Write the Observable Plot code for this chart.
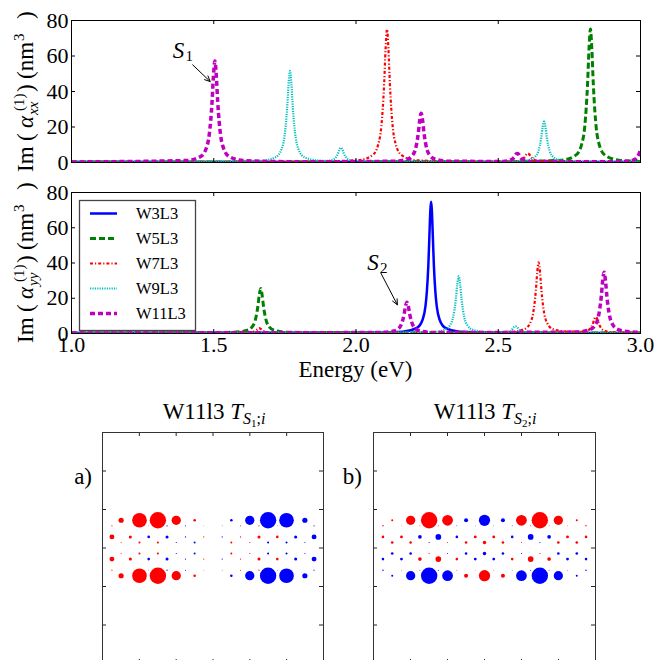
<!DOCTYPE html>
<html>
<head>
<meta charset="utf-8">
<script src="https://cdn.jsdelivr.net/npm/d3@7"></script>
<script src="https://cdn.jsdelivr.net/npm/@observablehq/plot@0.6"></script>
<style>
  html, body { margin:0; padding:0; background:#fff; }
  #root { position:relative; width:657px; height:660px; overflow:hidden; font-family:"Liberation Serif", serif; }
  #root svg, #root svg text, #root svg tspan { font-family:"Liberation Serif", serif !important; }
</style>
</head>
<body>
<div id="root"></div>
<script>
// ---------------- DATA ----------------
const seriesNames = ["W3L3", "W5L3", "W7L3", "W9L3", "W11L3"];
const energyTicks = [1.0, 1.5, 2.0, 2.5, 3.0];
const alphaTicks = [0, 20, 40, 60, 80];

// Im(alpha_xx) spectra: [energy eV, value nm^3]
const xxW3L3 = [[1.0,0.3],[3.0,0.3]];
const xxW5L3 = [[1.0,0.3],[2.5,0.4],[2.724,1.3],[2.774,4.3],[2.794,10.7],[2.804,20.2],[2.814,44.6],[2.819,64],[2.824,75.2],[2.829,64],[2.834,44.6],[2.844,20.2],[2.854,10.7],[2.874,4.3],[2.924,1.3],[3.0,0.6]];
const xxW7L3 = [[1.0,0.3],[1.8,0.4],[2.009,1.3],[2.059,4.3],[2.079,10.7],[2.089,20.2],[2.099,44.6],[2.104,64],[2.109,75],[2.114,64],[2.119,44.6],[2.129,20.2],[2.139,10.7],[2.159,4.3],[2.209,1.3],[2.4,0.4],[2.554,0.6],[2.584,1.6],[2.594,3.3],[2.599,4.6],[2.604,5.1],[2.609,4.6],[2.614,3.3],[2.624,1.6],[2.654,0.6],[3.0,0.3]];
const xxW9L3 = [[1.0,0.3],[1.668,1.0],[1.718,3.1],[1.738,7.4],[1.748,14.0],[1.758,30.7],[1.763,44.2],[1.768,51.6],[1.773,44.2],[1.778,30.7],[1.788,14.0],[1.798,7.4],[1.818,3.1],[1.868,1.1],[1.897,0.9],[1.917,1.5],[1.927,2.5],[1.937,5.2],[1.942,7.35],[1.947,8.3],[1.952,7.35],[1.957,5.2],[1.967,2.5],[1.977,1.5],[1.997,0.75],[2.1,0.4],[2.561,0.6],[2.611,1.5],[2.631,3.5],[2.641,6.4],[2.651,13.9],[2.656,19.9],[2.661,23],[2.666,19.9],[2.671,13.9],[2.681,6.4],[2.691,3.5],[2.711,1.5],[2.761,0.6],[3.0,0.3]];
const xxW11L3 = [[1.0,0.3],[1.404,1.1],[1.454,3.4],[1.474,8.2],[1.484,15.5],[1.494,34.0],[1.499,48.9],[1.504,57.2],[1.509,48.9],[1.514,34.0],[1.524,15.5],[1.534,8.2],[1.554,3.4],[1.604,1.1],[1.8,0.4],[2.129,0.7],[2.179,1.8],[2.199,4.1],[2.209,7.6],[2.219,16.6],[2.224,23.8],[2.229,27.7],[2.234,23.8],[2.239,16.6],[2.249,7.6],[2.259,4.1],[2.279,1.8],[2.329,0.7],[2.517,0.6],[2.547,1.6],[2.557,3.3],[2.562,4.6],[2.567,5.1],[2.572,4.6],[2.577,3.3],[2.587,1.6],[2.617,0.6],[2.905,0.4],[2.955,0.75],[2.975,1.4],[2.985,2.4],[2.995,5.0],[3.0,7.1]];

// Im(alpha_yy) spectra
const yyW3L3 = [[1.0,0.3],[2.064,0.5],[2.164,1.0],[2.214,3.2],[2.234,7.8],[2.244,15.2],[2.249,23.6],[2.254,37.7],[2.2565,48.4],[2.259,60.1],[2.2615,70.5],[2.264,74.7],[2.2665,70.5],[2.269,60.1],[2.2715,48.4],[2.274,37.7],[2.279,23.6],[2.284,15.2],[2.294,7.8],[2.314,3.2],[2.364,1.0],[2.464,0.5],[3.0,0.3]];
const yyW5L3 = [[1.0,0.3],[1.565,0.66],[1.615,1.67],[1.635,3.8],[1.645,7.0],[1.655,15.3],[1.66,21.9],[1.665,25.5],[1.67,21.9],[1.675,15.3],[1.685,7.0],[1.695,3.8],[1.715,1.67],[1.765,0.66],[3.0,0.3]];
const yyW7L3 = [[1.0,0.3],[1.61,0.45],[1.64,1.0],[1.65,1.9],[1.655,2.6],[1.66,3.0],[1.665,2.6],[1.67,1.9],[1.68,1.0],[1.71,0.45],[2.0,0.3],[2.542,0.9],[2.592,2.5],[2.612,5.9],[2.622,11.0],[2.632,24.1],[2.637,34.6],[2.642,40.4],[2.647,34.6],[2.652,24.1],[2.662,11.0],[2.672,5.9],[2.692,2.5],[2.742,1.1],[2.793,1.0],[2.813,1.6],[2.823,2.8],[2.833,5.8],[2.838,8.3],[2.843,9.4],[2.848,8.3],[2.853,5.8],[2.863,2.8],[2.873,1.6],[2.893,0.8],[2.943,0.45],[3.0,0.35]];
const yyW9L3 = [[1.0,0.3],[2.261,0.76],[2.311,2.05],[2.331,4.8],[2.341,8.9],[2.351,19.5],[2.356,27.9],[2.361,32.5],[2.366,27.9],[2.371,19.5],[2.381,8.9],[2.391,4.8],[2.411,2.05],[2.461,0.8],[2.511,0.6],[2.541,1.36],[2.551,2.7],[2.556,3.7],[2.561,4.0],[2.566,3.7],[2.571,2.7],[2.581,1.36],[2.611,0.5],[3.0,0.3]];
const yyW11L3 = [[1.0,0.3],[2.079,0.55],[2.129,1.26],[2.149,2.76],[2.159,5.0],[2.169,10.8],[2.174,15.4],[2.179,17.8],[2.184,15.4],[2.189,10.8],[2.199,5.0],[2.209,2.76],[2.229,1.26],[2.279,0.55],[2.772,0.8],[2.822,2.2],[2.842,5.1],[2.852,9.5],[2.862,20.8],[2.867,29.8],[2.872,34.7],[2.877,29.8],[2.882,20.8],[2.892,9.5],[2.902,5.1],[2.922,2.2],[2.972,0.8],[3.0,0.6]];

// annotations (data coordinates)
const s1Label = {E: 1.376, v: 63.1, sub: "1"};
const s1Arrow = {E1: 1.426, v1: 55.0, E2: 1.4875, v2: 45.6};
const s2Label = {E: 2.060, v: 40.4, sub: "2"};
const s2Arrow = {E1: 2.087, v1: 34.4, E2: 2.1454, v2: 16.3};

// W11L3 lattice (Angstrom) : atom columns and rows
const evenSiteX = [-13.72, -11.22, -8.73, -6.24, -3.74, -1.25, 1.25, 3.74, 6.24, 8.73, 11.22, 13.72];
const oddSiteX  = [-12.47, -9.98, -7.48, -4.99, -2.49, 0, 2.49, 4.99, 7.48, 9.98, 12.47];
const rowY      = [3.60, 2.88, 1.44, 0.72, -0.72, -1.44, -2.88, -3.60];
const rowSites  = ["odd", "even", "even", "odd", "odd", "even", "even", "odd"];
const latticeTicks = [-10, -5, 0, 5, 10];

// transition charges T_{S1;i} per row
const tS1 = [
  [0.10, 0.80, 1.0, 0.32, 0.025, 0, -0.025, -0.32, -1.0, -0.80, -0.10],
  [0.005, 0, 0.002, -0.006, -0.004, 0.002, -0.002, 0.004, 0.006, -0.002, 0, -0.005],
  [0.09, 0.035, -0.025, -0.035, -0.006, 0.005, -0.005, 0.006, 0.035, 0.025, -0.035, -0.09],
  [0.004, 0.016, 0.016, -0.005, -0.014, 0, 0.014, 0.005, -0.016, -0.016, -0.004],
  [0.004, 0.016, 0.016, -0.005, -0.014, 0, 0.014, 0.005, -0.016, -0.016, -0.004],
  [0.09, 0.035, -0.025, -0.035, -0.006, 0.005, -0.005, 0.006, 0.035, 0.025, -0.035, -0.09],
  [0.005, 0, 0.002, -0.006, -0.004, 0.002, -0.002, 0.004, 0.006, -0.002, 0, -0.005],
  [0.10, 0.80, 1.0, 0.32, 0.025, 0, -0.025, -0.32, -1.0, -0.80, -0.10]
];
// transition charges T_{S2;i} per row
const tS2 = [
  [0.015, 0.32, 1.0, 0.43, -0.06, -0.47, -0.06, 0.43, 1.0, 0.32, 0.015],
  [0.008, 0.002, 0.003, 0.004, -0.003, -0.002, -0.002, -0.003, 0.004, 0.003, 0.002, 0.008],
  [0.025, 0.03, -0.05, -0.12, -0.025, 0.03, 0.03, -0.025, -0.12, -0.05, 0.03, 0.025],
  [0.025, 0.025, -0.005, 0.004, 0.025, 0.045, 0.025, 0.004, -0.005, 0.025, 0.025],
  [-0.025, -0.025, 0.005, -0.004, -0.025, -0.045, -0.025, -0.004, 0.005, -0.025, -0.025],
  [-0.025, -0.03, 0.05, 0.12, 0.025, -0.03, -0.03, 0.025, 0.12, 0.05, -0.03, -0.025],
  [-0.008, -0.002, -0.003, -0.004, 0.003, 0.002, 0.002, 0.003, -0.004, -0.003, -0.002, -0.008],
  [-0.015, -0.32, -1.0, -0.43, 0.06, 0.47, 0.06, -0.43, -1.0, -0.32, -0.015]
];

// ---------------- RENDER ----------------
const FONT = '"Liberation Serif", serif';
const root = document.getElementById("root");
function place(el, left, top) {
  const d = document.createElement("div");
  d.style.position = "absolute";
  d.style.left = left + "px";
  d.style.top = top + "px";
  d.appendChild(el);
  root.appendChild(d);
  return d;
}
const seriesStyle = {
  W3L3:  {stroke: "#0000FF", strokeWidth: 2.5, dash: null},
  W5L3:  {stroke: "#008000", strokeWidth: 3.0, dash: "6,3"},
  W7L3:  {stroke: "#FF0000", strokeWidth: 2.2, dash: "3,2,1.2,2"},
  W9L3:  {stroke: "#00BFBF", strokeWidth: 2.2, dash: "1.2,1.2"},
  W11L3: {stroke: "#BF00BF", strokeWidth: 3.5, dash: "5,3"}
};

function spectrum(seriesData, opts) {
  const {marginTop, marginBottom, height, showX} = opts;
  const mL = 71, mR = 17;
  const pxPerE = (657 - mL - mR) / 2;
  const pxPerV = (height - marginTop - marginBottom) / 80;
  const tE = 4 / pxPerE, tV = 4 / pxPerV;
  const marks = [];
  seriesNames.forEach((name, i) => {
    const s = seriesStyle[name];
    const pts = seriesData[i].map(([E, v]) => ({E, v}));
    const o = {x: "E", y: "v", stroke: s.stroke, strokeWidth: s.strokeWidth, curve: "monotone-x", clip: true, strokeLinejoin: "round"};
    if (s.dash) { o.strokeDasharray = s.dash; o.strokeLinecap = "butt"; }
    marks.push(Plot.line(pts, o));
  });
  // inward ticks
  marks.push(Plot.ruleY(alphaTicks, {y: d => d, x1: 1, x2: 1 + tE, stroke: "black"}));
  marks.push(Plot.ruleY(alphaTicks, {y: d => d, x1: 3 - tE, x2: 3, stroke: "black"}));
  marks.push(Plot.ruleX(energyTicks, {x: d => d, y1: 0, y2: tV, stroke: "black"}));
  marks.push(Plot.ruleX(energyTicks, {x: d => d, y1: 80 - tV, y2: 80, stroke: "black"}));
  // annotation
  marks.push(Plot.arrow([opts.arrow], {x1: "E1", y1: "v1", x2: "E2", y2: "v2", stroke: "black", strokeWidth: 1, headLength: 9, headAngle: 50}));
  marks.push(Plot.text([opts.label], {x: "E", y: "v", text: () => "S", fontStyle: "italic", fontSize: 23}));
  marks.push(Plot.text([opts.label], {x: "E", y: "v", text: d => d.sub, fontSize: 15, dx: 7, dy: 6, textAnchor: "start"}));
  marks.push(Plot.frame({stroke: "black", strokeWidth: 1}));
  return Plot.plot({
    width: 657, height, marginLeft: mL, marginRight: mR, marginTop, marginBottom,
    style: {fontFamily: FONT, fontSize: "22px", background: "transparent", overflow: "visible", color: "black"},
    x: {domain: [1, 3], ticks: energyTicks, tickSize: 0, tickPadding: 3, tickFormat: d => d.toFixed(1), label: null, axis: showX ? "bottom" : null},
    y: {domain: [0, 80], ticks: alphaTicks, tickSize: 0, tickPadding: 3, label: null},
    marks
  });
}

const xxData = [xxW3L3, xxW5L3, xxW7L3, xxW9L3, xxW11L3];
const yyData = [yyW3L3, yyW5L3, yyW7L3, yyW9L3, yyW11L3];

place(spectrum(xxData, {marginTop: 20, marginBottom: 8, height: 170, showX: false, label: s1Label, arrow: s1Arrow}), 0, 0);
place(spectrum(yyData, {marginTop: 20, marginBottom: 49, height: 210, showX: true, label: s2Label, arrow: s2Arrow}), 0, 172);

function dotPanel(values, innerW) {
  const atoms = [];
  rowY.forEach((y, r) => {
    const xs = rowSites[r] === "even" ? evenSiteX : oddSiteX;
    values[r].forEach((t, k) => atoms.push({x: xs[k], y, t}));
  });
  const innerH = 231;
  const tx = 4 * 30 / innerW, ty = 4 * 30 / innerH;
  return Plot.plot({
    width: innerW + 2, height: innerH + 2, marginLeft: 1, marginRight: 1, marginTop: 1, marginBottom: 1,
    style: {background: "transparent", overflow: "visible"},
    x: {domain: [-15, 15], axis: null},
    y: {domain: [-15, 15], axis: null},
    r: {type: "sqrt", domain: [0, 1], range: [0, 8.2]},
    color: {type: "identity"},
    marks: [
      Plot.dot(atoms, {x: "x", y: "y", r: d => Math.abs(d.t), fill: d => d.t >= 0 ? "#FF0000" : "#0000FF"}),
      Plot.ruleX(latticeTicks, {x: d => d, y1: 15 - ty, y2: 15, stroke: "#222"}),
      Plot.ruleX(latticeTicks, {x: d => d, y1: -15, y2: -15 + ty, stroke: "#222"}),
      Plot.ruleY(latticeTicks, {y: d => d, x1: -15, x2: -15 + tx, stroke: "#222"}),
      Plot.ruleY(latticeTicks, {y: d => d, x1: 15 - tx, x2: 15, stroke: "#222"}),
      Plot.frame({stroke: "#333", strokeWidth: 1})
    ]
  });
}
place(dotPanel(tS1, 221), 101, 431);
place(dotPanel(tS2, 222), 372, 431);

// ---------------- OVERLAY TEXT ----------------
const overlay = d3.create("svg").attr("width", 657).attr("height", 660)
  .style("position", "absolute").style("left", "0px").style("top", "0px")
  .style("pointer-events", "none").attr("font-family", FONT);
root.appendChild(overlay.node());

function yLabel(x, y, sub) {
  const g = overlay.append("g").attr("transform", `translate(${x},${y}) rotate(-90)`);
  const pieces = [
    {x: 0, t: "Im", s: 23},
    {x: 31, t: "(", s: 23},
    {x: 44, t: "\u03B1", s: 23, it: true},
    {x: 57, t: sub, s: 15, it: true, y: 5},
    {x: 61, t: "(1)", s: 15, y: -9},
    {x: 80, t: ")", s: 23},
    {x: 93, t: "(nm", s: 23},
    {x: 131, t: "3", s: 15, y: -9},
    {x: 153, t: ")", s: 23}
  ];
  pieces.forEach(p => {
    g.append("text").attr("x", p.x).attr("y", p.y || 0).attr("font-size", p.s)
      .attr("font-style", p.it ? "italic" : "normal").attr("fill", "black").text(p.t);
  });
}
yLabel(33, 172, "xx");
yLabel(33, 343, "yy");

overlay.append("text").attr("x", 355.5).attr("y", 377).attr("text-anchor", "middle")
  .attr("font-size", 23).text("Energy (eV)");

function panelTitle(cx, sNum) {
  const t = overlay.append("text").attr("x", cx).attr("y", 419).attr("text-anchor", "middle").attr("font-size", 23);
  t.append("tspan").text("W11l3 ");
  t.append("tspan").attr("font-style", "italic").text("T");
  t.append("tspan").attr("font-style", "italic").attr("font-size", 16).attr("dy", 5).text("S");
  t.append("tspan").attr("font-size", 11).attr("dy", 3).text(sNum);
  t.append("tspan").attr("font-size", 16).attr("dy", -3).text(";");
  t.append("tspan").attr("font-style", "italic").attr("font-size", 16).text("i");
}
panelTitle(214, "1");
panelTitle(485, "2");
overlay.append("text").attr("x", 92).attr("y", 484).attr("text-anchor", "end").attr("font-size", 23).text("a)");
overlay.append("text").attr("x", 362).attr("y", 484).attr("text-anchor", "end").attr("font-size", 23).text("b)");

// legend
const lg = overlay.append("g");
lg.append("rect").attr("x", 79.5).attr("y", 200.5).attr("width", 116).attr("height", 130)
  .attr("fill", "white").attr("stroke", "#444").attr("stroke-width", 1.3);
seriesNames.forEach((name, i) => {
  const s = seriesStyle[name];
  const cy = 213.5 + i * 25;
  const ln = lg.append("line").attr("x1", 90).attr("x2", 117).attr("y1", cy).attr("y2", cy)
    .attr("stroke", s.stroke).attr("stroke-width", s.strokeWidth);
  if (s.dash) ln.attr("stroke-dasharray", s.dash);
  lg.append("text").attr("x", 136).attr("y", cy + 5.5).attr("font-size", 16.5).text(name);
});
</script>
</body>
</html>
